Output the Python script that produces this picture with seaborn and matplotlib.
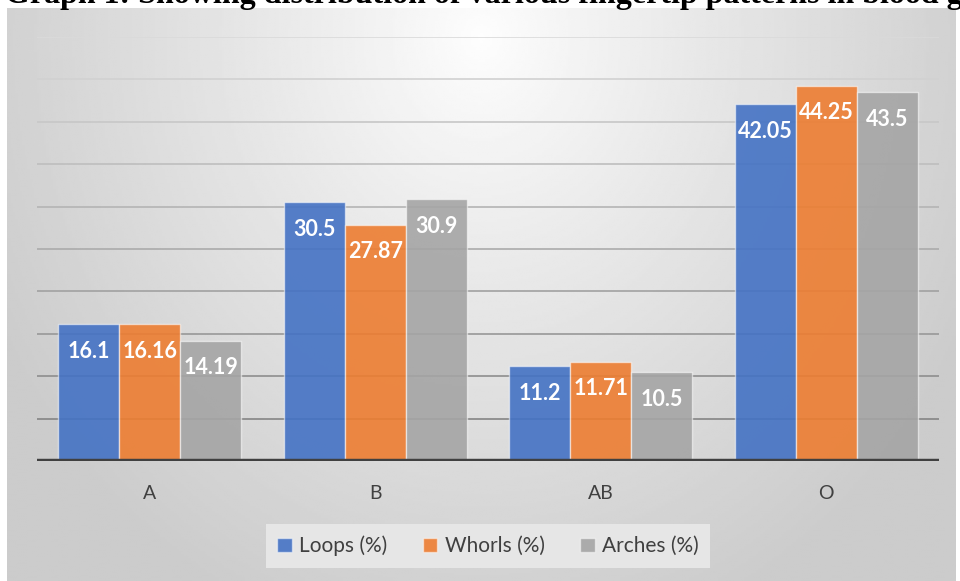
import numpy as np
import pandas as pd
import matplotlib
matplotlib.use("Agg")
import matplotlib.pyplot as plt
from matplotlib.colors import to_rgba
import seaborn as sns

# Fingertip pattern distribution (%) by blood group
categories = ["A", "B", "AB", "O"]
loops = [16.1, 30.5, 11.2, 42.05]
whorls = [16.16, 27.87, 11.71, 44.25]
arches = [14.19, 30.9, 10.5, 43.5]
series_names = ["Loops (%)", "Whorls (%)", "Arches (%)"]
series_values = [loops, whorls, arches]
title = "Graph 1: Showing distribution of various fingertip patterns in blood groups"

df = pd.DataFrame({
    "group": np.tile(categories, len(series_names)),
    "pattern": np.repeat(series_names, len(categories)),
    "value": np.concatenate(series_values),
})

sns.set_theme(style="white")
plt.rcParams["font.family"] = ["Lato", "DejaVu Sans"]

W, H = 960, 581
fig = plt.figure(figsize=(W / 100, H / 100), dpi=100)
fig.patch.set_facecolor("white")

# Chart-area background: soft radial gradient, lightest near the top centre
bg = fig.add_axes([7 / W, 0, (955 - 7) / W, (H - 8) / H])
gx = np.linspace(-1, 1, 400)
gy = np.linspace(0, 1, 240)
X, Y = np.meshgrid(gx, gy)
R = np.sqrt((X / 1.05) ** 2 + ((Y - 0.05) / 1.0) ** 2)
shade = 0.995 - 0.18 * np.clip(R, 0, 1.1) ** 0.9
bg.imshow(shade, cmap="gray", vmin=0, vmax=1, aspect="auto",
          extent=[0, 1, 1, 0], interpolation="bilinear")
bg.axis("off")

# Plot area
ax = fig.add_axes([37 / W, (H - 461) / H, (939 - 37) / W, (461 - 37) / H])
ax.set_facecolor("none")

palette = ["#4472C4", "#ED7D31", "#A5A5A5"]
sns.barplot(data=df, x="group", y="value", hue="pattern", order=categories,
            hue_order=series_names, palette=palette, width=0.81,
            errorbar=None, ax=ax, zorder=3)

# Semi-transparent fills with a faint light outline
for container, col in zip(ax.containers, palette):
    for patch in container:
        patch.set_alpha(None)
        patch.set_facecolor(to_rgba(col, 0.9))
        patch.set_edgecolor((1, 1, 1, 0.55))
        patch.set_linewidth(1.0)

# Value labels inside the top of each bar
for container, vals in zip(ax.containers, series_values):
    for patch, v in zip(container, vals):
        ax.annotate(f"{v:g}", (patch.get_x() + patch.get_width() / 2, v),
                    xytext=(0, -19.5), textcoords="offset points",
                    ha="center", va="center", color="white",
                    fontsize=15.5, fontweight="bold", zorder=5)

ax.set_ylim(0, 50)
ax.set_xlim(-0.5, len(categories) - 0.5)

# Gridlines, darkening toward the baseline
grid_levels = np.arange(5, 51, 5)
light = np.array([0.855, 0.855, 0.855])
dark = np.array([0.52, 0.52, 0.52])
for lvl in grid_levels:
    t = (50 - lvl) / 45
    c = light + (dark - light) * t
    ax.axhline(lvl, color=tuple(c), linewidth=1.2, zorder=1)
ax.axhline(0, color="#404040", linewidth=3.2, zorder=4, solid_capstyle="butt")

for s in ax.spines.values():
    s.set_visible(False)
ax.set_yticks([])
ax.set_xlabel("")
ax.set_ylabel("")
ax.tick_params(axis="x", length=0, pad=17, labelsize=14, labelcolor="#404040")

# Legend
ax.legend_.remove()
handles = [plt.Rectangle((0, 0), 1, 1, facecolor=to_rgba(c, 0.9),
                         edgecolor=(1, 1, 1, 0.5)) for c in palette]
leg = fig.legend(handles, series_names, loc="center",
                 bbox_to_anchor=(488 / W, (H - 546) / H), ncol=3,
                 fontsize=15, frameon=True, facecolor="#e6e6e6",
                 edgecolor="none", framealpha=1, fancybox=False,
                 handlelength=0.7, handleheight=0.7, handletextpad=0.35,
                 columnspacing=1.7, borderpad=0.55, borderaxespad=0,
                 labelcolor="#404040")

# Title across the top edge
fig.text(5 / W, 1 - 3 / H, title, ha="left", va="baseline",
         fontfamily=["Liberation Serif", "DejaVu Serif"], fontweight="bold",
         fontsize=23, color="black")

fig.savefig("out.png", dpi=100)
